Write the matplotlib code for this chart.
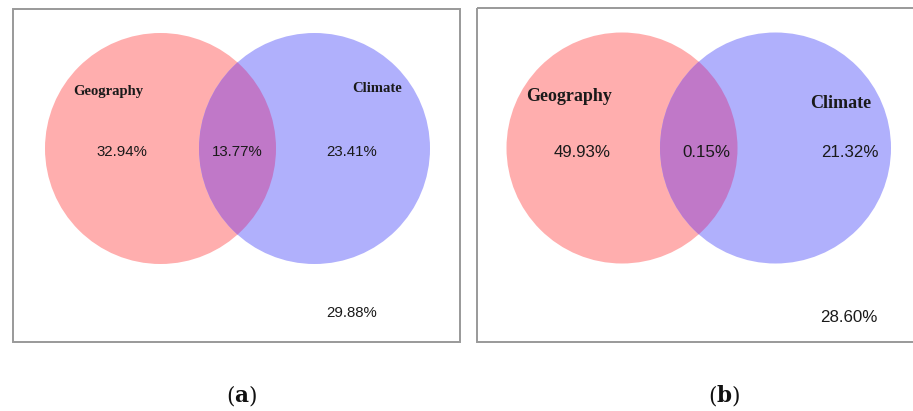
import matplotlib
matplotlib.use("Agg")
import matplotlib.pyplot as plt
from matplotlib.patches import Circle, Rectangle

# Venn shares (percent) for the two datasets
panel_tags = ["a", "b"]
set_names = ["Geography", "Climate"]
geography_only = [32.94, 49.93]
both = [13.77, 0.15]
climate_only = [23.41, 21.32]
neither = [29.88, 28.60]

W, H = 913, 411
fig = plt.figure(figsize=(W / 100, H / 100), dpi=100)
ax = fig.add_axes([0, 0, 1, 1])
ax.set_xlim(0, W)
ax.set_ylim(H, 0)
ax.set_aspect("equal")
ax.axis("off")

PINK = "#ffaeae"
BLUE = "#b0b0fc"
PURPLE = "#c078c8"

# per-panel layout (pixel space)
frames = [(13, 9.5, 447, 332), (477, 8, 445, 334)]
left_c = [(160.5, 148.5), (622, 148)]
right_c = [(314.5, 148.5), (775.5, 148)]
radius = 115.5
name_pos = [[(108, 91), (377, 89)], [(569, 96), (841, 103)]]
name_size = [10.5, 13]
val_y = [152, 152]
val_x = [(122, 237, 352), (582, 706, 850)]
out_pos = [(352, 313), (849, 317)]
val_size = [10.8, 12.2]
tag_x = [242, 724]
TAG_SIZE = 15.5

for i in range(2):
    fx, fy, fw, fh = frames[i]
    ax.add_patch(Rectangle((fx, fy), fw, fh, fill=False, ec="#999999", lw=1.4, zorder=1))

    c1 = Circle(left_c[i], radius, fc=PINK, ec="none", zorder=2)
    c2 = Circle(right_c[i], radius, fc=BLUE, ec="none", zorder=3)
    ax.add_patch(c1)
    ax.add_patch(c2)
    overlap = Circle(left_c[i], radius, fc=PURPLE, ec="none", zorder=4)
    ax.add_patch(overlap)
    overlap.set_clip_path(c2)

    for (nx, ny), name in zip(name_pos[i], set_names):
        ax.text(nx, ny, name, ha="center", va="center", fontsize=name_size[i],
                fontweight="bold", family="Liberation Serif", color="#1a1a1a", zorder=5)

    vals = [geography_only[i], both[i], climate_only[i]]
    for x, v in zip(val_x[i], vals):
        ax.text(x, val_y[i], f"{v:.2f}%", ha="center", va="center", fontsize=val_size[i],
                family="Liberation Sans", color="#1a1a1a", zorder=5)
    ax.text(out_pos[i][0], out_pos[i][1], f"{neither[i]:.2f}%", ha="center", va="center",
            fontsize=val_size[i], family="Liberation Sans", color="#1a1a1a", zorder=5)

    # panel tag: normal parentheses around a bold letter
    t_open = ax.text(tag_x[i] - 12, 396, "(", ha="center", va="center", fontsize=TAG_SIZE,
                     family="DejaVu Serif", color="#111111")
    t_mid = ax.annotate(panel_tags[i], xy=(1, 0), xycoords=t_open, ha="left", va="bottom",
                        fontsize=TAG_SIZE, fontweight="bold", family="DejaVu Serif",
                        color="#111111")
    ax.annotate(")", xy=(1, 0), xycoords=t_mid, ha="left", va="bottom",
                fontsize=TAG_SIZE, family="DejaVu Serif", color="#111111")

fig.savefig("out.png", dpi=100)
